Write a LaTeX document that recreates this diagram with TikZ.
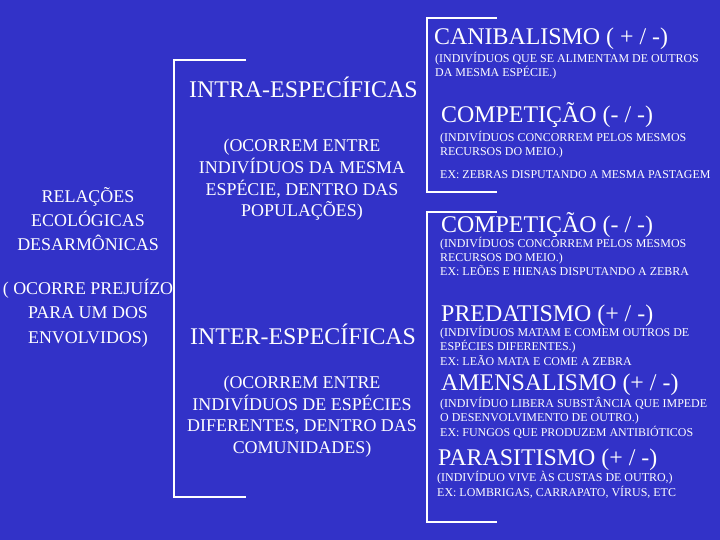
\documentclass[tikz,border=0pt]{standalone}
\usepackage{fontspec}
\setmainfont{Liberation Serif}
\usepackage{tikz}
\usetikzlibrary{positioning}
\definecolor{slide}{RGB}{50,50,200}
\tikzset{
  every node/.style={text=white,inner sep=0pt},
  big/.style={font=\fontsize{24}{28}\selectfont,anchor=base west},
  small/.style={font=\fontsize{12}{14.5}\selectfont,anchor=base west,align=left},
  mid/.style={font=\fontsize{18}{21.7}\selectfont,anchor=base,align=center},
  wide/.style={font=\fontsize{18}{24.5}\selectfont,anchor=base,align=center},
  brace/.style={white,line width=1.2bp}
}

\begin{document}
\begin{tikzpicture}[x=1bp,y=-1bp]
  \fill[slide] (0,0) rectangle (720,540);
  \useasboundingbox (0,0) rectangle (720,540);
  % left column (base = last line)
  \node[wide] (rel) at (88,251) {RELAÇÕES\\ECOLÓGICAS\\DESARMÔNICAS};
  \node[wide] (prej) at (88,343) {( OCORRE PREJUÍZO\\PARA UM DOS\\ENVOLVIDOS)};
  % middle column
  \node[big] (intra) at (189,97.5) {INTRA-ESPECÍFICAS};
  \node[mid] (intratxt) at (302,216.8) {(OCORREM ENTRE\\INDIVÍDUOS DA MESMA\\ESPÉCIE, DENTRO DAS\\POPULAÇÕES)};
  \node[big] (inter) at (190,344) {INTER-ESPECÍFICAS};
  \node[mid] (intertxt) at (302,453.4) {(OCORREM ENTRE\\INDIVÍDUOS DE ESPÉCIES\\DIFERENTES, DENTRO DAS\\COMUNIDADES)};
  % right column
  \node[big] (canib) at (434,45) {CANIBALISMO ( + / -)};
  \node[small] (canibtxt) at (435,76.5) {(INDIVÍDUOS QUE SE ALIMENTAM DE OUTROS\\DA MESMA ESPÉCIE.)};
  \node[big] (comp) at (441,123) {COMPETIÇÃO (- / -)};
  \node[small] (comptxt) at (440,155.5) {(INDIVÍDUOS CONCORREM PELOS MESMOS\\RECURSOS DO MEIO.)};
  \node[small] (compex) at (440,179) {EX: ZEBRAS DISPUTANDO A MESMA PASTAGEM};
  \node[big] (compb) at (441,233) {COMPETIÇÃO (- / -)};
  \node[small] (compbtxt) at (440,276) {(INDIVÍDUOS CONCORREM PELOS MESMOS\\RECURSOS DO MEIO.)\\EX: LEÕES E HIENAS DISPUTANDO A ZEBRA};
  \node[big] (pred) at (441,321.5) {PREDATISMO (+ / -)};
  \node[small] (predtxt) at (440,365) {(INDIVÍDUOS MATAM E COMEM OUTROS DE\\ESPÉCIES DIFERENTES.)\\EX: LEÃO MATA E COME A ZEBRA};
  \node[big] (amen) at (441,390) {AMENSALISMO (+ / -)};
  \node[small] (amentxt) at (440,436) {(INDIVÍDUO LIBERA SUBSTÂNCIA QUE IMPEDE\\O DESENVOLVIMENTO DE OUTRO.)\\EX: FUNGOS QUE PRODUZEM ANTIBIÓTICOS};
  \node[big] (paras) at (438,465) {PARASITISMO (+ / -)};
  \node[small] (parastxt) at (437,496) {(INDIVÍDUO VIVE ÀS CUSTAS DE OUTRO,)\\EX: LOMBRIGAS, CARRAPATO, VÍRUS, ETC};
  % brackets
  \coordinate (bigtop) at (246,60);
  \coordinate (bigbot) at (246,497);
  \coordinate (intop) at (497,18);
  \coordinate (inbot) at (497,192);
  \coordinate (extop) at (497,212);
  \coordinate (exbot) at (497,522);
  \draw[brace] (bigtop) -| (174,497) -- (bigbot);
  \draw[brace] (intop) -| (427,192) -- (inbot);
  \draw[brace] (extop) -| (427,522) -- (exbot);
\end{tikzpicture}
\end{document}
